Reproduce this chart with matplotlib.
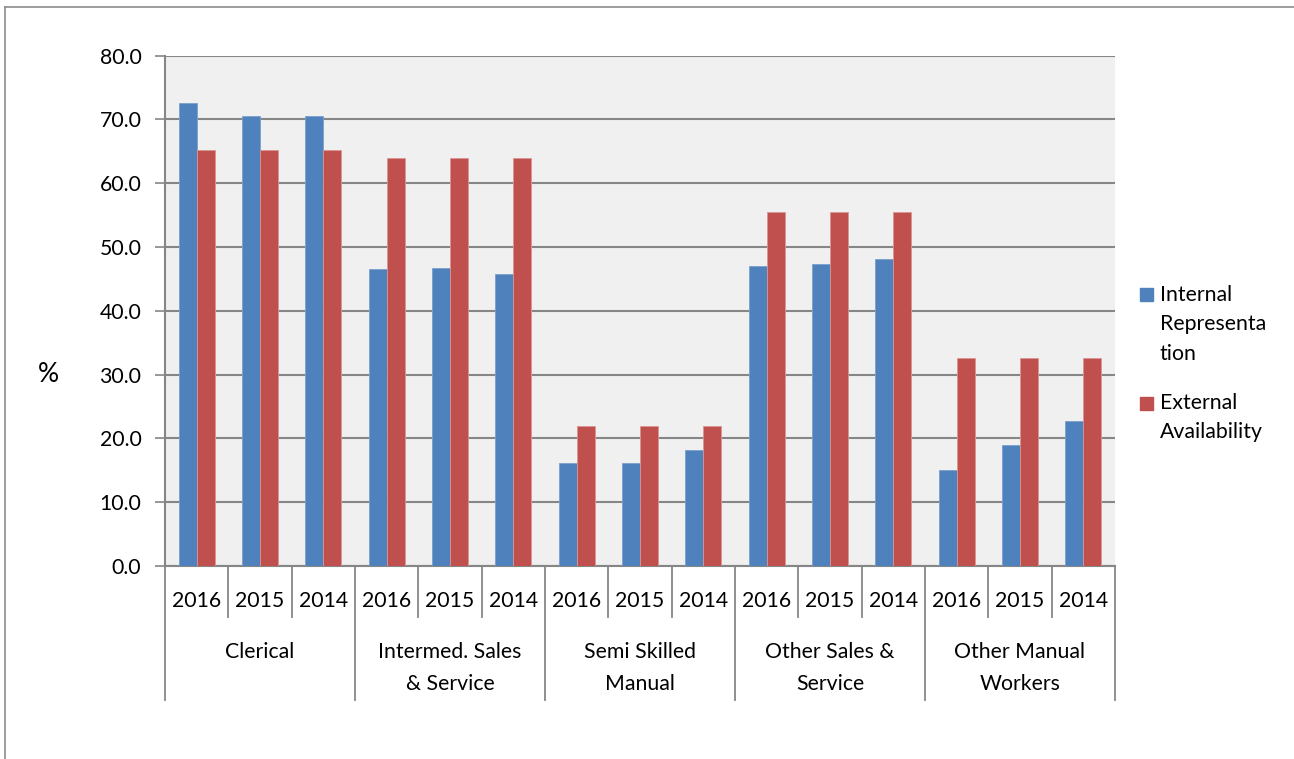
import numpy as np
import matplotlib
matplotlib.use("Agg")
import matplotlib.pyplot as plt
from matplotlib.lines import Line2D
from matplotlib.patches import Rectangle
import matplotlib.transforms as mtransforms

# data
groups = ["Clerical", "Intermed. Sales\n& Service", "Semi Skilled\nManual",
          "Other Sales &\nService", "Other Manual\nWorkers"]
years = ["2016", "2015", "2014"]
internal = [72.6, 70.5, 70.5,
            46.5, 46.7, 45.8,
            16.1, 16.1, 18.2,
            47.0, 47.4, 48.2,
            15.0, 19.0, 22.8]
external = [65.2, 65.2, 65.2,
            63.9, 63.9, 63.9,
            22.0, 22.0, 22.0,
            55.5, 55.5, 55.5,
            32.6, 32.6, 32.6]
legend_labels = ["Internal\nRepresenta\ntion", "External\nAvailability"]

plt.rcParams['font.family'] = ['Lato', 'DejaVu Sans']
blue = "#4F81BD"
red = "#C0504D"
grid_c = "#868686"
fs = 15.3

W, H = 1294, 759
fig = plt.figure(figsize=(W / 100, H / 100), dpi=100)
ax = fig.add_axes([165 / W, 1 - 566 / H, 950 / W, 510.3 / H])
ax.set_facecolor("#F0F0F0")

n = len(internal)
x = np.arange(n)
w = 0.284
ax.bar(x - w / 2, internal, w, color=blue, edgecolor="#7BA0CD", linewidth=0.6, zorder=3)
ax.bar(x + w / 2, external, w, color=red, edgecolor="#D99694", linewidth=0.6, zorder=3)

ax.set_xlim(-0.5, n - 0.5)
ax.set_ylim(0, 80)
ax.set_yticks(np.arange(0, 81, 10))
ax.set_yticklabels([f"{v:.1f}" for v in np.arange(0, 81, 10)], fontsize=fs)
ax.yaxis.grid(True, color=grid_c, linewidth=1.5, zorder=1)
ax.tick_params(axis="y", length=7, width=1.2, color=grid_c, pad=10)
ax.set_xticks([])
for s in ["top", "right"]:
    ax.spines[s].set_visible(False)
for s in ["left", "bottom"]:
    ax.spines[s].set_color(grid_c)
    ax.spines[s].set_linewidth(1.5)

# multi-level category axis
trans = mtransforms.blended_transform_factory(ax.transData, ax.transAxes)
h_px = 510.3
for i in range(n):
    ax.text(i, -35 / h_px, years[i % 3], transform=trans, ha="center", va="center",
            fontsize=fs)
for b in range(n + 1):
    edge = b - 0.5
    low = -134 / h_px if b % 3 == 0 else -51 / h_px
    ax.add_line(Line2D([edge, edge], [0, low], transform=trans, color=grid_c,
                       linewidth=1.3, clip_on=False))
for g, name in enumerate(groups):
    for k, line in enumerate(name.split("\n")):
        ax.text(3 * g + 1, -(86 + 32 * k) / h_px, line, transform=trans,
                ha="center", va="center", fontsize=fs)

fig.text(48 / W, 1 - 375 / H, "%", fontsize=19, ha="center", va="center")

# legend
legend_colors = [blue, red]
legend_y = [295, 403]
for label, c, ypx in zip(legend_labels, legend_colors, legend_y):
    fig.add_artist(Rectangle((1140 / W, 1 - (ypx + 6.5) / H), 13 / W, 13 / H,
                             transform=fig.transFigure, color=c))
    for k, line in enumerate(label.split("\n")):
        fig.text(1160 / W, 1 - (ypx + 29.5 * k) / H, line, fontsize=fs,
                 ha="left", va="center")

# outer frame
fig.add_artist(Line2D([5 / W, 5 / W], [0, 1 - 7 / H], transform=fig.transFigure,
                      color="#8C8C8C", linewidth=1.2))
fig.add_artist(Line2D([5 / W, 1], [1 - 7 / H, 1 - 7 / H], transform=fig.transFigure,
                      color="#8C8C8C", linewidth=1.2))

plt.savefig("out.png", dpi=100)
